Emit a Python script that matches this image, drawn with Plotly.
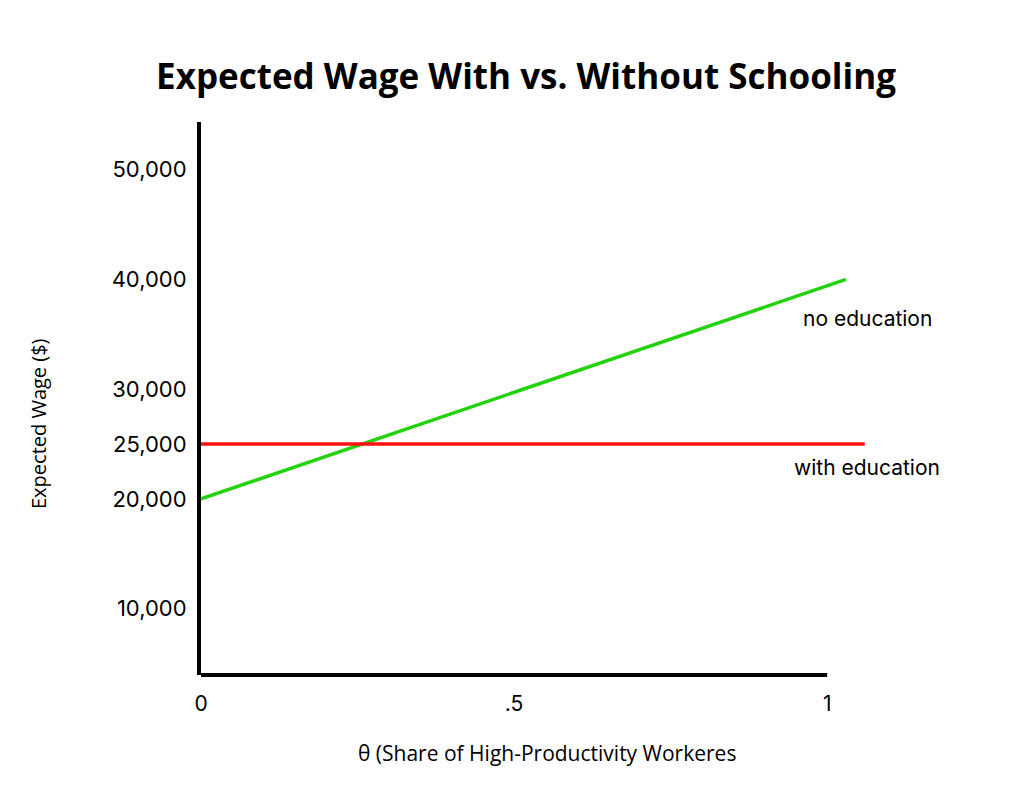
import plotly.graph_objects as go

# Data
theta_no_edu = [0, 1.03]
wage_no_edu = [20000, 40000]
theta_with_edu = [0, 1.06]
wage_with_edu = [25000, 25000]

y_tickvals = [10000, 20000, 25000, 30000, 40000, 50000]
y_ticktext = ["10,000", "20,000", "25,000", "30,000", "40,000", "50,000"]
x_tickvals = [0, 0.5, 1]
x_ticktext = ["0", ".5", "1"]

W, H = 1024, 787
ML, MR, MT, MB = 193, 161, 114, 120
PW, PH = W - ML - MR, H - MT - MB


def px(x):
    return (x - ML) / PW


def py(y):
    return (H - MB - y) / PH


fig = go.Figure()
fig.add_trace(go.Scatter(x=theta_no_edu, y=wage_no_edu, mode="lines",
                         line=dict(color="#22d20a", width=3.5), showlegend=False,
                         name="no education"))
fig.add_trace(go.Scatter(x=theta_with_edu, y=wage_with_edu, mode="lines",
                         line=dict(color="#ff1010", width=3.5), showlegend=False,
                         name="with education"))

# x axis line from 0 to 1 (axis extent)
fig.add_shape(type="line", xref="x", yref="y domain", x0=-0.003, x1=1.0, y0=0, y1=0,
              line=dict(color="black", width=4))

fig.add_annotation(x=1.064, y=36400, xref="x", yref="y", text="no education",
                   showarrow=False, font=dict(family="Inter", size=21, color="black"))
fig.add_annotation(x=1.064, y=22900, xref="x", yref="y", text="with education",
                   showarrow=False, font=dict(family="Inter", size=21, color="black"))

# axis titles
fig.add_annotation(x=px(539), y=py(745), xref="paper", yref="paper",
                   text="θ (Share of High-Productivity Workeres", showarrow=False,
                   xanchor="center", yanchor="middle",
                   font=dict(family="Open Sans", size=21, color="black"))
fig.add_annotation(x=px(30), y=py(416), xref="paper", yref="paper",
                   text="Expected Wage ($)", showarrow=False, textangle=-90,
                   xanchor="center", yanchor="middle",
                   font=dict(family="Open Sans", size=20, color="black"))

fig.update_layout(
    width=W, height=H,
    paper_bgcolor="white", plot_bgcolor="white",
    margin=dict(l=ML, r=MR, t=MT, b=MB),
    title=dict(text="<b>Expected Wage With vs. Without Schooling</b>",
               x=518 / W, xanchor="center", y=1 - 69 / H, yanchor="middle",
               font=dict(family="Open Sans", size=35, color="black")),
    xaxis=dict(range=[0, 1.07], showgrid=False, zeroline=False, showline=False,
               tickvals=x_tickvals, ticktext=x_ticktext, ticks="",
               ticklabelstandoff=14,
               tickfont=dict(family="Inter", size=21, color="black")),
    yaxis=dict(range=[3950, 54350], showgrid=False, zeroline=False,
               showline=True, linecolor="black", linewidth=4,
               tickvals=y_tickvals, ticktext=y_ticktext, ticks="",
               ticklabelstandoff=6,
               tickfont=dict(family="Inter", size=22, color="black")),
)

fig.write_html("out.html")
